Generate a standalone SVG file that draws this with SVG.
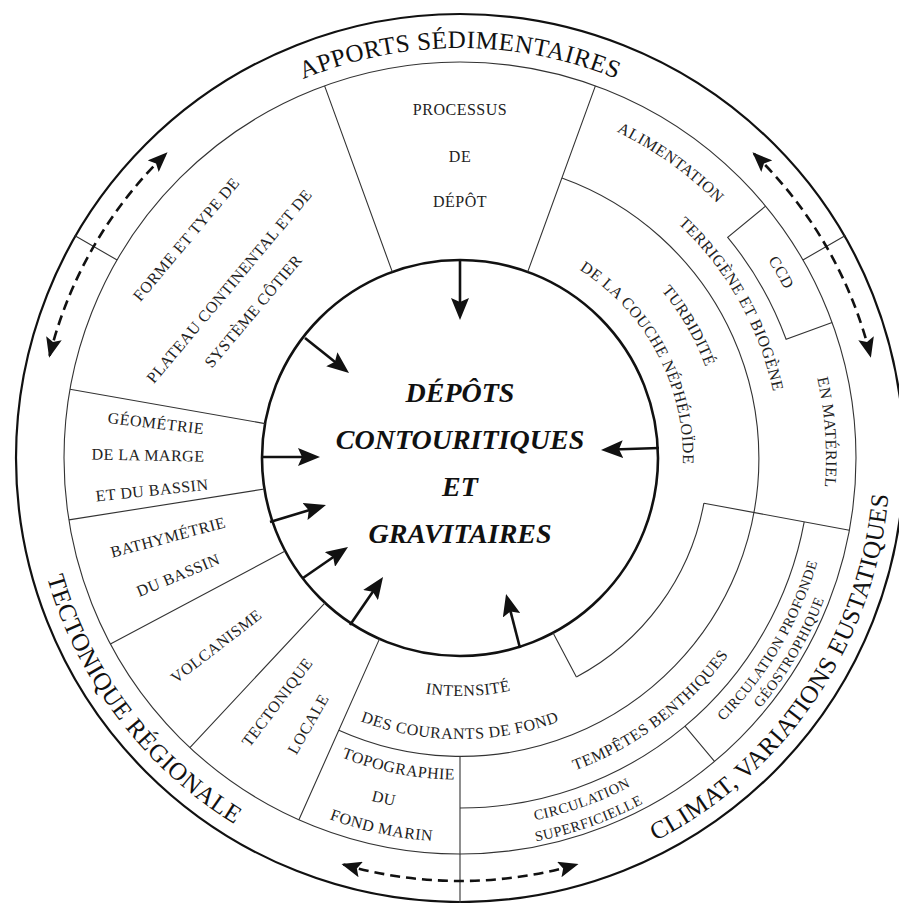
<svg xmlns="http://www.w3.org/2000/svg" width="899" height="903" viewBox="0 0 899 903">
<style>
.ln{fill:none;stroke:#333;stroke-width:1.1}
.lbl{font-family:"Liberation Serif","Times New Roman",serif;font-size:16px;letter-spacing:0.5px;fill:#222}
.sm{font-size:14.5px}
.big{font-family:"Liberation Serif","Times New Roman",serif;font-size:25px;letter-spacing:0.5px;fill:#111}
.ctr{font-family:"Liberation Serif","Times New Roman",serif;font-size:28px;font-weight:bold;font-style:italic;fill:#111}
.arr{stroke:#111;stroke-width:2.6;fill:none}
.dash{stroke:#111;stroke-width:2.6;fill:none;stroke-dasharray:10 6}
</style>
<defs>
<marker id="ah" markerUnits="userSpaceOnUse" markerWidth="22" markerHeight="18" viewBox="0 0 22 18" refX="17" refY="9" orient="auto"><path d="M0,0 L22,9 L0,18 L4,9 z" fill="#111"/></marker>
<marker id="dh" markerUnits="userSpaceOnUse" markerWidth="20" markerHeight="16" viewBox="0 0 20 16" refX="18" refY="8" orient="auto-start-reverse"><path d="M0,0 L20,8 L0,16 L4,8 z" fill="#111"/></marker>
<path id="pApports" d="M196.5,143.9 A410,410 0 0 1 723.5,143.9"/>
<path id="pTecto" d="M30.5,437.7 A430,430 0 0 0 365.5,877.5"/>
<path id="pClimat" d="M542.8,879.9 A430,430 0 0 0 882.0,375.2"/>
<path id="pAlim" d="M494.7,97.7 A362,362 0 0 1 789.4,307.9"/>
<path id="pCCD" d="M695.3,177.6 A366,366 0 0 1 820.4,394.4"/>
<path id="pTerri" d="M572.1,158.3 A320,320 0 0 1 774.7,516.3"/>
<path id="pMat" d="M780.1,280.6 A366,366 0 0 1 801.7,589.2"/>
<path id="pTurb" d="M591,231.1 A262,262 0 0 1 722,458"/>
<path id="pCouche" d="M506.4,239.9 A223,223 0 0 1 666.8,541.5"/>
<path id="pInt" d="M348.3,668.1 A238,238 0 0 0 586.1,659.8"/>
<path id="pCour" d="M278.7,674.0 A285,285 0 0 0 641.3,674.0"/>
<path id="pTemp" d="M471.6,790.8 A333,333 0 0 0 776.7,560.9"/>
<path id="pCirc1" d="M393.2,821.9 A370,370 0 0 0 741.8,697.8"/>
<path id="pSup" d="M389.4,842.6 A391,391 0 0 0 757.7,711.4"/>
<path id="pProf" d="M613.7,796.8 A371,371 0 0 0 830.9,429.5"/>
<path id="pGeo" d="M622.1,813.8 A392,392 0 0 0 849.8,427.3"/>
<path id="pTopo" d="M248.0,700.9 A322,322 0 0 0 562.4,762.6"/>
<path id="pDu" d="M269.3,756.2 A354,354 0 0 0 505.6,809.1"/>
<path id="pFond" d="M228.9,764.7 A384,384 0 0 0 546.4,832.2"/>
</defs>
<rect width="899" height="903" fill="#fff"/>

<g id="frame">
<circle cx="460" cy="458" r="444" fill="none" stroke="#111" stroke-width="2.2"/>
<circle cx="460" cy="458" r="396" class="ln"/>
<circle cx="460" cy="458" r="198" fill="none" stroke="#111" stroke-width="2.6"/>
<path class="ln" d="M117.1,260 L74.6,235.5 M802.9,260 L845.4,235.5 M460,756 L460,903"/>
<path class="ln" d="M392.3,271.9 L324.6,85.9 M527.7,271.9 L595.4,85.9 M265,423.6 L70,389.2 M264.4,489 L68.9,519.9 M285.2,551 L110.4,643.9 M325,602.8 L189.9,747.6 M379.5,638.9 L298.9,819.8"/>
<path class="ln" d="M765.6,206.1 L727.7,237.3 A347,347 0 0 1 786.1,339.3 L832.1,322.6"/>
<path class="ln" d="M703.9,503.2 L849.4,530.2 M553,632.8 L576.4,677 M685,726.1 L714.5,761.3"/>
<path class="ln" d="M561.9,178 A298,298 0 1 1 338.8,730.2"/>
<path class="ln" d="M703.9,503.2 A248,248 0 0 1 576.4,677"/>
<path class="ln" d="M804.2,521.8 A350,350 0 0 1 460,808"/>
</g>

<g id="apports"><text class="big"><textPath href="#pApports" startOffset="50%" text-anchor="middle">APPORTS SÉDIMENTAIRES</textPath></text></g>
<g id="tectonique-regionale"><text class="big"><textPath href="#pTecto" startOffset="50%" text-anchor="middle">TECTONIQUE RÉGIONALE</textPath></text></g>
<g id="climat"><text class="big"><textPath href="#pClimat" startOffset="50%" text-anchor="middle">CLIMAT, VARIATIONS EUSTATIQUES</textPath></text></g>

<g id="centre">
<text class="ctr" x="460" y="402" text-anchor="middle">DÉPÔTS</text>
<text class="ctr" x="460" y="449" text-anchor="middle">CONTOURITIQUES</text>
<text class="ctr" x="460" y="496" text-anchor="middle">ET</text>
<text class="ctr" x="460" y="543" text-anchor="middle">GRAVITAIRES</text>
</g>

<g id="processus">
<text class="lbl" x="460" y="115" text-anchor="middle">PROCESSUS</text>
<text class="lbl" x="460" y="162" text-anchor="middle">DE</text>
<text class="lbl" x="460" y="207" text-anchor="middle">DÉPÔT</text>
</g>

<g id="alimentation">
<text class="lbl"><textPath href="#pAlim" startOffset="50%" text-anchor="middle">ALIMENTATION</textPath></text>
<text class="lbl"><textPath href="#pTerri" startOffset="50%" text-anchor="middle">TERRIGÈNE ET BIOGÈNE</textPath></text>
<text class="lbl"><textPath href="#pMat" startOffset="50%" text-anchor="middle">EN MATÉRIEL</textPath></text>
</g>
<g id="ccd"><text class="lbl"><textPath href="#pCCD" startOffset="50%" text-anchor="middle">CCD</textPath></text></g>

<g id="turbidite">
<text class="lbl"><textPath href="#pTurb" startOffset="50%" text-anchor="middle">TURBIDITÉ</textPath></text>
<text class="lbl"><textPath href="#pCouche" startOffset="50%" text-anchor="middle">DE LA COUCHE NÉPHÉLOÏDE</textPath></text>
</g>

<g id="intensite">
<text class="lbl"><textPath href="#pInt" startOffset="50%" text-anchor="middle">INTENSITÉ</textPath></text>
<text class="lbl"><textPath href="#pCour" startOffset="50%" text-anchor="middle">DES COURANTS DE FOND</textPath></text>
</g>

<g id="tempetes"><text class="lbl"><textPath href="#pTemp" startOffset="50%" text-anchor="middle">TEMPÊTES BENTHIQUES</textPath></text></g>

<g id="circulation-superficielle">
<text class="lbl sm"><textPath href="#pCirc1" startOffset="50%" text-anchor="middle">CIRCULATION</textPath></text>
<text class="lbl sm"><textPath href="#pSup" startOffset="50%" text-anchor="middle">SUPERFICIELLE</textPath></text>
</g>

<g id="circulation-profonde">
<text class="lbl sm"><textPath href="#pProf" startOffset="50%" text-anchor="middle">CIRCULATION PROFONDE</textPath></text>
<text class="lbl sm"><textPath href="#pGeo" startOffset="50%" text-anchor="middle">GÉOSTROPHIQUE</textPath></text>
</g>

<g id="topographie">
<text class="lbl"><textPath href="#pTopo" startOffset="50%" text-anchor="middle">TOPOGRAPHIE</textPath></text>
<text class="lbl"><textPath href="#pDu" startOffset="50%" text-anchor="middle">DU</textPath></text>
<text class="lbl"><textPath href="#pFond" startOffset="50%" text-anchor="middle">FOND MARIN</textPath></text>
</g>

<g id="forme">
<text class="lbl" text-anchor="middle" transform="translate(186,239) rotate(-50)" dy="0.35em">FORME ET TYPE DE</text>
<text class="lbl" text-anchor="middle" transform="translate(229,286) rotate(-50)" dy="0.35em">PLATEAU CONTINENTAL ET DE</text>
<text class="lbl" text-anchor="middle" transform="translate(253,311) rotate(-50)" dy="0.35em">SYSTÈME CÔTIER</text>
</g>

<g id="geometrie">
<text class="lbl" text-anchor="middle" transform="translate(156,423) rotate(6.6)" dy="0.35em">GÉOMÉTRIE</text>
<text class="lbl" text-anchor="middle" transform="translate(148,455) rotate(1)" dy="0.35em">DE LA MARGE</text>
<text class="lbl" text-anchor="middle" transform="translate(152,490) rotate(-6)" dy="0.35em">ET DU BASSIN</text>
</g>

<g id="bathymetrie">
<text class="lbl" text-anchor="middle" transform="translate(168,537) rotate(-15)" dy="0.35em">BATHYMÉTRIE</text>
<text class="lbl" text-anchor="middle" transform="translate(178,575) rotate(-22.5)" dy="0.35em">DU BASSIN</text>
</g>

<g id="volcanisme">
<text class="lbl" text-anchor="middle" transform="translate(216,646) rotate(-37.6)" dy="0.35em">VOLCANISME</text>
</g>

<g id="tectonique-locale">
<text class="lbl" text-anchor="middle" transform="translate(277,702) rotate(-53)" dy="0.35em">TECTONIQUE</text>
<text class="lbl" text-anchor="middle" transform="translate(308,724) rotate(-60)" dy="0.35em">LOCALE</text>
</g>

<g id="connectors">
<line class="arr" x1="460" y1="260" x2="460" y2="315" marker-end="url(#ah)"/>
<line class="arr" x1="305" y1="338" x2="345.1" y2="369.9" marker-end="url(#ah)"/>
<line class="arr" x1="262" y1="457" x2="315" y2="457" marker-end="url(#ah)"/>
<line class="arr" x1="270" y1="522" x2="321.2" y2="506.5" marker-end="url(#ah)"/>
<line class="arr" x1="303" y1="578" x2="343.9" y2="549.8" marker-end="url(#ah)"/>
<line class="arr" x1="350" y1="625" x2="380.2" y2="581.1" marker-end="url(#ah)"/>
<line class="arr" x1="520" y1="648" x2="507.3" y2="598.8" marker-end="url(#ah)"/>
<line class="arr" x1="659" y1="448" x2="606" y2="449.8" marker-end="url(#ah)"/>
<path class="dash" d="M49.6,355.7 A423,423 0 0 1 166.1,153.7" marker-start="url(#dh)" marker-end="url(#dh)"/>
<path class="dash" d="M753.9,153.7 A423,423 0 0 1 870.4,355.7" marker-start="url(#dh)" marker-end="url(#dh)"/>
<path class="dash" d="M343.4,864.6 A423,423 0 0 0 576.6,864.6" marker-start="url(#dh)" marker-end="url(#dh)"/>
</g>
</svg>
